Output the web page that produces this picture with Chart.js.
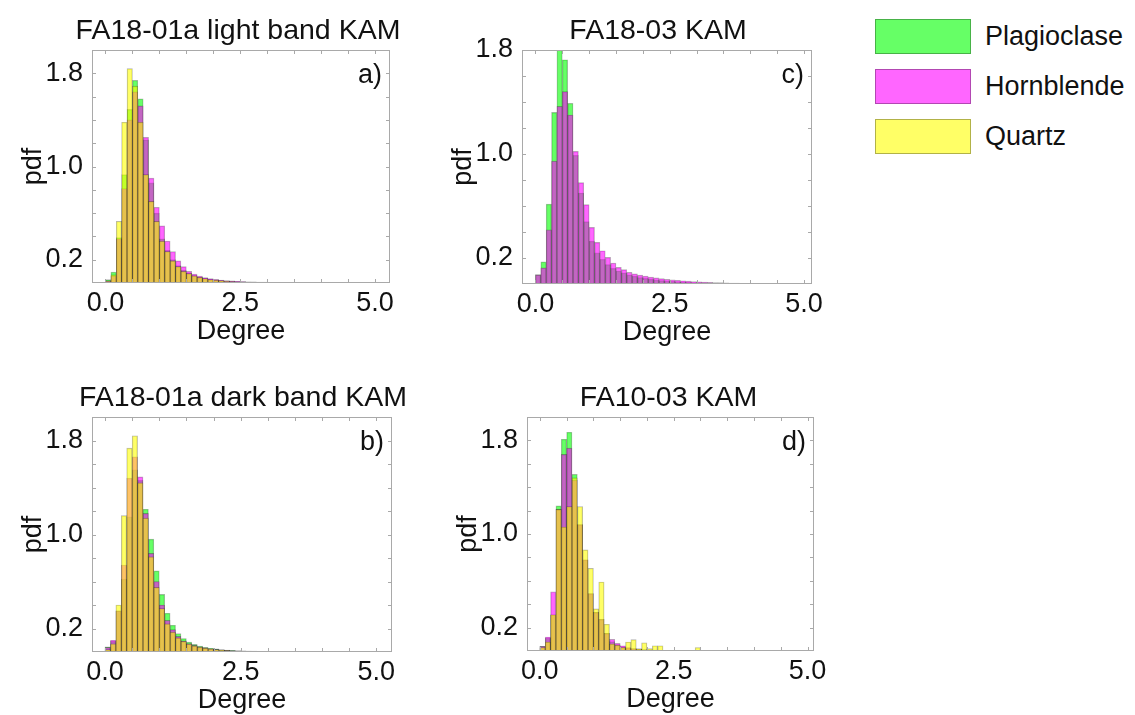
<!DOCTYPE html>
<html><head><meta charset="utf-8">
<script src="https://cdn.jsdelivr.net/npm/chart.js@4.4.1/dist/chart.umd.min.js"></script>
<style>
html,body{margin:0;padding:0;background:#fff;overflow:hidden;width:1135px;height:715px;position:relative;}
canvas{position:absolute;}
.leg{position:absolute;left:875px;width:96px;height:35px;box-sizing:border-box;border:1px solid rgba(0,0,0,0.3);}
.legt{position:absolute;left:985px;font:27px "Liberation Sans",Arial,sans-serif;color:#111;line-height:35px;height:35px;white-space:nowrap;}
</style></head><body>
<div id="legend"></div>
<script>
// ---------- data ----------
const binCenters = [0.05,0.15,0.25,0.35,0.45,0.55,0.65,0.75,0.85,0.95,1.05,1.15,1.25,1.35,1.45,1.55,1.65,1.75,1.85,1.95,2.05,2.15,2.25,2.35,2.45,2.55,2.65,2.75,2.85,2.95,3.05,3.15,3.25,3.35,3.45,3.55,3.65,3.75,3.85,3.95,4.05,4.15,4.25,4.35,4.45,4.55,4.65,4.75,4.85,4.95];
const seriesNames = ['Plagioclase','Hornblende','Quartz'];

const aPlag = [0.03,0.094,0.39,0.93,1.49,1.74,1.58,1.23,0.86,0.60,0.38,0.28,0.20,0.15,0.11,0.085,0.065,0.05,0.04,0.032,0.026,0.021,0.017,0.014,0.012,0.01,0.008,0.007,0.006,0.005,0.004,0.004,0.003,0.003,0.002,0.002,0.002,0.001,0.001,0.001,0.001];
const aHorn = [0.02,0.06,0.38,0.81,1.40,1.64,1.52,1.25,0.90,0.65,0.49,0.36,0.27,0.19,0.14,0.10,0.077,0.06,0.047,0.038,0.031,0.025,0.021,0.018,0.015,0.013,0.011,0.009,0.008,0.007,0.006,0.005,0.004,0.004,0.003,0.003,0.002,0.002,0.002,0.001,0.001,0.001,0.001];
const aQtz  = [0.015,0.07,0.53,1.38,1.84,1.69,1.38,0.93,0.70,0.53,0.36,0.27,0.19,0.14,0.10,0.08,0.062,0.048,0.038,0.03,0.024,0.02,0.016,0.013,0.011,0.009,0.008,0.006,0.005,0.004,0.004,0.003,0.003,0.002,0.002,0.002,0.001,0.001,0.001];

const bPlag = [0.043,0.09,0.35,0.62,1.15,1.55,1.46,1.215,0.96,0.69,0.49,0.33,0.228,0.157,0.115,0.085,0.065,0.05,0.04,0.032,0.026,0.021,0.017,0.014,0.011,0.009,0.008,0.007,0.006,0.005,0.004,0.003,0.003,0.002,0.002,0.002,0.001,0.001,0.001,0.001];
const bHorn = [0.04,0.10,0.35,0.74,1.48,1.66,1.49,1.18,0.84,0.60,0.40,0.27,0.19,0.134,0.095,0.072,0.056,0.044,0.035,0.028,0.023,0.019,0.015,0.012,0.01,0.008,0.007,0.006,0.005,0.004,0.003,0.003,0.002,0.002,0.002,0.001,0.001,0.001];
const bQtz  = [0.02,0.07,0.40,1.16,1.735,1.84,1.44,1.14,0.81,0.55,0.37,0.24,0.17,0.12,0.09,0.068,0.052,0.041,0.033,0.026,0.021,0.017,0.014,0.011,0.009,0.007,0.006,0.005,0.004,0.003,0.003,0.002,0.002,0.001,0.001,0.001];

const cPlag = [0.072,0.17,0.614,1.32,1.86,1.725,1.39,0.99,0.70,0.48,0.33,0.24,0.19,0.15,0.12,0.10,0.085,0.07,0.06,0.05,0.043,0.037,0.032,0.027,0.023,0.02,0.017,0.015,0.013,0.011,0.01,0.009,0.008,0.007,0.006,0.005,0.004,0.004,0.003,0.003,0.002,0.002,0.002,0.001,0.001,0.001,0.001];
const cHorn = [0.07,0.124,0.417,0.946,1.367,1.48,1.30,1.02,0.78,0.61,0.435,0.32,0.256,0.205,0.161,0.128,0.11,0.09,0.078,0.068,0.06,0.053,0.047,0.041,0.036,0.032,0.028,0.025,0.022,0.019,0.017,0.015,0.013,0.011,0.01,0.009,0.008,0.007,0.006,0.005,0.004,0.004,0.003,0.003,0.002,0.002,0.002,0.001,0.001,0.001];

const dPlag = [0.04,0.11,0.31,1.24,1.81,1.87,1.51,1.08,0.78,0.49,0.33,0.27,0.15,0.08,0.055,0.035,0.025,0.02,0.015,0.012,0.01,0.008,0.006,0.005,0.004,0.004,0.003,0.003,0.002,0.002,0.002,0.001,0.001,0.001];
const dHorn = [0.04,0.12,0.506,1.21,1.68,1.735,1.46,1.08,0.78,0.49,0.33,0.27,0.15,0.10,0.065,0.045,0.03,0.02,0.015,0.012,0.01,0.008,0.006,0.005,0.004,0.004,0.003,0.003,0.002,0.002,0.002,0.001,0.001,0.001];
const dQtz  = [0.03,0.077,0.31,1.21,1.06,1.235,1.48,1.235,0.864,0.707,0.36,0.59,0.229,0.06,0.05,0.03,0.077,0.097,0.02,0.07,0.02,0.045,0.045,0,0,0,0,0,0,0.03];

const panelTitles  = ['FA18-01a light band KAM','FA18-01a dark band KAM','FA18-03 KAM','FA10-03 KAM'];
const panelLetters = ['a)','b)','c)','d)'];
const xTickValues = [0,0.5,1,1.5,2,2.5,3,3.5,4,4.5,5];
const xTickLabels = [0,2.5,5];
const yTickValues = [0.2,0.4,0.6,0.8,1.0,1.2,1.4,1.6,1.8];
const yTickLabels = [0.2,1.0,1.8];
const xAxisTitle = 'Degree';
const yAxisTitle = 'pdf';

// ---------- styles / layout ----------
const seriesFill = ['rgba(0,255,0,0.6)','rgba(255,0,255,0.6)','rgba(255,255,0,0.6)'];
const FONT = '"Liberation Sans", Arial, Helvetica, sans-serif';
const FS = 27;
const TITLE_FS = 28.5;
Chart.defaults.font.family = FONT;

const panels = [
  {title:panelTitles[0], letter:panelLetters[0], series:[aPlag,aHorn,aQtz], L:92, T:50, R:390, B:283, xmin:-0.25, xmax:5.28, ymin:0, ymax:2.0, tdx:-3},
  {title:panelTitles[1], letter:panelLetters[1], series:[bPlag,bHorn,bQtz], L:92, T:417, R:392, B:652, xmin:-0.24, xmax:5.29, ymin:0, ymax:2.0, tdx:1},
  {title:panelTitles[2], letter:panelLetters[2], series:[cPlag,cHorn,null], L:522, T:50, R:812, B:284, xmin:-0.25, xmax:5.15, ymin:0, ymax:1.8, tdx:-9},
  {title:panelTitles[3], letter:panelLetters[3], series:[dPlag,dHorn,dQtz], L:527, T:417, R:814, B:651, xmin:-0.24, xmax:5.12, ymin:0, ymax:2.0, tdx:-2}
];

const near = (arr, v) => arr.some(a => Math.abs(a - v) < 1e-6);

const frameTicks = {
  id: 'frameTicks',
  afterDatasetsDraw(chart, args, opts) {
    const {ctx, chartArea: ca} = chart;
    const xs = chart.scales.x, ys = chart.scales.y;
    ctx.save();
    ctx.strokeStyle = '#a9a9a9';
    ctx.lineWidth = 1;
    ctx.beginPath();
    xs.ticks.forEach(t => {
      const p = Math.round(xs.getPixelForValue(t.value)) + 0.5;
      ctx.moveTo(p, ca.bottom); ctx.lineTo(p, ca.bottom - 4);
      ctx.moveTo(p, ca.top); ctx.lineTo(p, ca.top + 4);
    });
    ys.ticks.forEach(t => {
      const p = Math.round(ys.getPixelForValue(t.value)) + 0.5;
      ctx.moveTo(ca.left, p); ctx.lineTo(ca.left + 4, p);
      ctx.moveTo(ca.right, p); ctx.lineTo(ca.right - 4, p);
    });
    ctx.stroke();
    ctx.strokeRect(ca.left + 0.5, ca.top + 0.5, ca.right - ca.left - 1, ca.bottom - ca.top - 1);
    ctx.fillStyle = '#111';
    ctx.font = FS + 'px ' + FONT;
    ctx.textAlign = 'right';
    ctx.textBaseline = 'middle';
    ctx.fillText(opts.letter, ca.right - 8, ca.top + 26);
    // panel title, centred over the plot area
    ctx.font = TITLE_FS + 'px ' + FONT;
    ctx.textAlign = 'center';
    ctx.textBaseline = 'alphabetic';
    ctx.fillText(opts.title, (ca.left + ca.right) / 2 + opts.dx, ca.top - 11.5);
    ctx.restore();
  }
};

function makeChart(p) {
  const cv = document.createElement('canvas');
  const left = p.L - 90, top = p.T - 50;
  const w = p.R + 30 - left, h = (p.B - p.T) + 125;
  cv.width = w; cv.height = h;
  cv.style.left = left + 'px'; cv.style.top = top + 'px';
  cv.style.width = w + 'px'; cv.style.height = h + 'px';
  document.body.appendChild(cv);
  const datasets = [];
  p.series.forEach((vals, i) => {
    if (!vals) return;
    datasets.push({
      label: seriesNames[i],
      data: binCenters.map((c, k) => ({x: c, y: vals[k] ? vals[k] : null})),
      backgroundColor: seriesFill[i],
      borderColor: 'rgba(0,0,0,0.3)',
      borderWidth: 0.7,
      borderSkipped: false,
      grouped: false,
      barPercentage: 1,
      categoryPercentage: 1,
      order: 3 - i,
      clip: 0
    });
  });
  new Chart(cv, {
    type: 'bar',
    data: {datasets},
    plugins: [frameTicks],
    options: {
      responsive: false, animation: false, devicePixelRatio: 1,
      layout: {padding: {left: 0, right: 30, top: 50, bottom: 0}},
      plugins: {
        legend: {display: false}, tooltip: {enabled: false}, title: {display: false},
        frameTicks: {letter: p.letter, title: p.title, dx: p.tdx}
      },
      scales: {
        x: {
          type: 'linear', min: p.xmin, max: p.xmax, offset: false,
          grid: {display: false, drawTicks: false}, border: {display: false},
          afterBuildTicks: s => { s.ticks = xTickValues.map(v => ({value: v})); },
          afterFit: s => { s.height = 75; },
          ticks: {autoSkip: false, maxRotation: 0, padding: 4.5, color: '#111', font: {size: FS},
                  callback: v => near(xTickLabels, v) ? v.toFixed(1) : ''},
          title: {display: true, text: xAxisTitle, color: '#111', font: {size: FS}, padding: {top: 0, bottom: 9.8}}
        },
        y: {
          type: 'linear', min: p.ymin, max: p.ymax,
          grid: {display: false, drawTicks: false}, border: {display: false},
          afterBuildTicks: s => { s.ticks = yTickValues.map(v => ({value: v})); },
          afterFit: s => { s.width = 90; },
          ticks: {autoSkip: false, padding: 9, color: '#111', font: {size: FS},
                  callback: v => near(yTickLabels, v) ? v.toFixed(1) : ''},
          title: {display: true, text: yAxisTitle, color: '#111', font: {size: FS}, padding: {top: 15.8, bottom: 0}}
        }
      }
    }
  });
}
panels.forEach(makeChart);

// legend (HTML)
const legTops = [19, 69, 119];
const legend = document.getElementById('legend');
seriesNames.forEach((n, i) => {
  const b = document.createElement('div');
  b.className = 'leg'; b.style.top = legTops[i] + 'px'; b.style.background = seriesFill[i];
  const t = document.createElement('div');
  t.className = 'legt'; t.style.top = legTops[i] + 'px'; t.textContent = n;
  legend.appendChild(b); legend.appendChild(t);
});
</script>
</body></html>
